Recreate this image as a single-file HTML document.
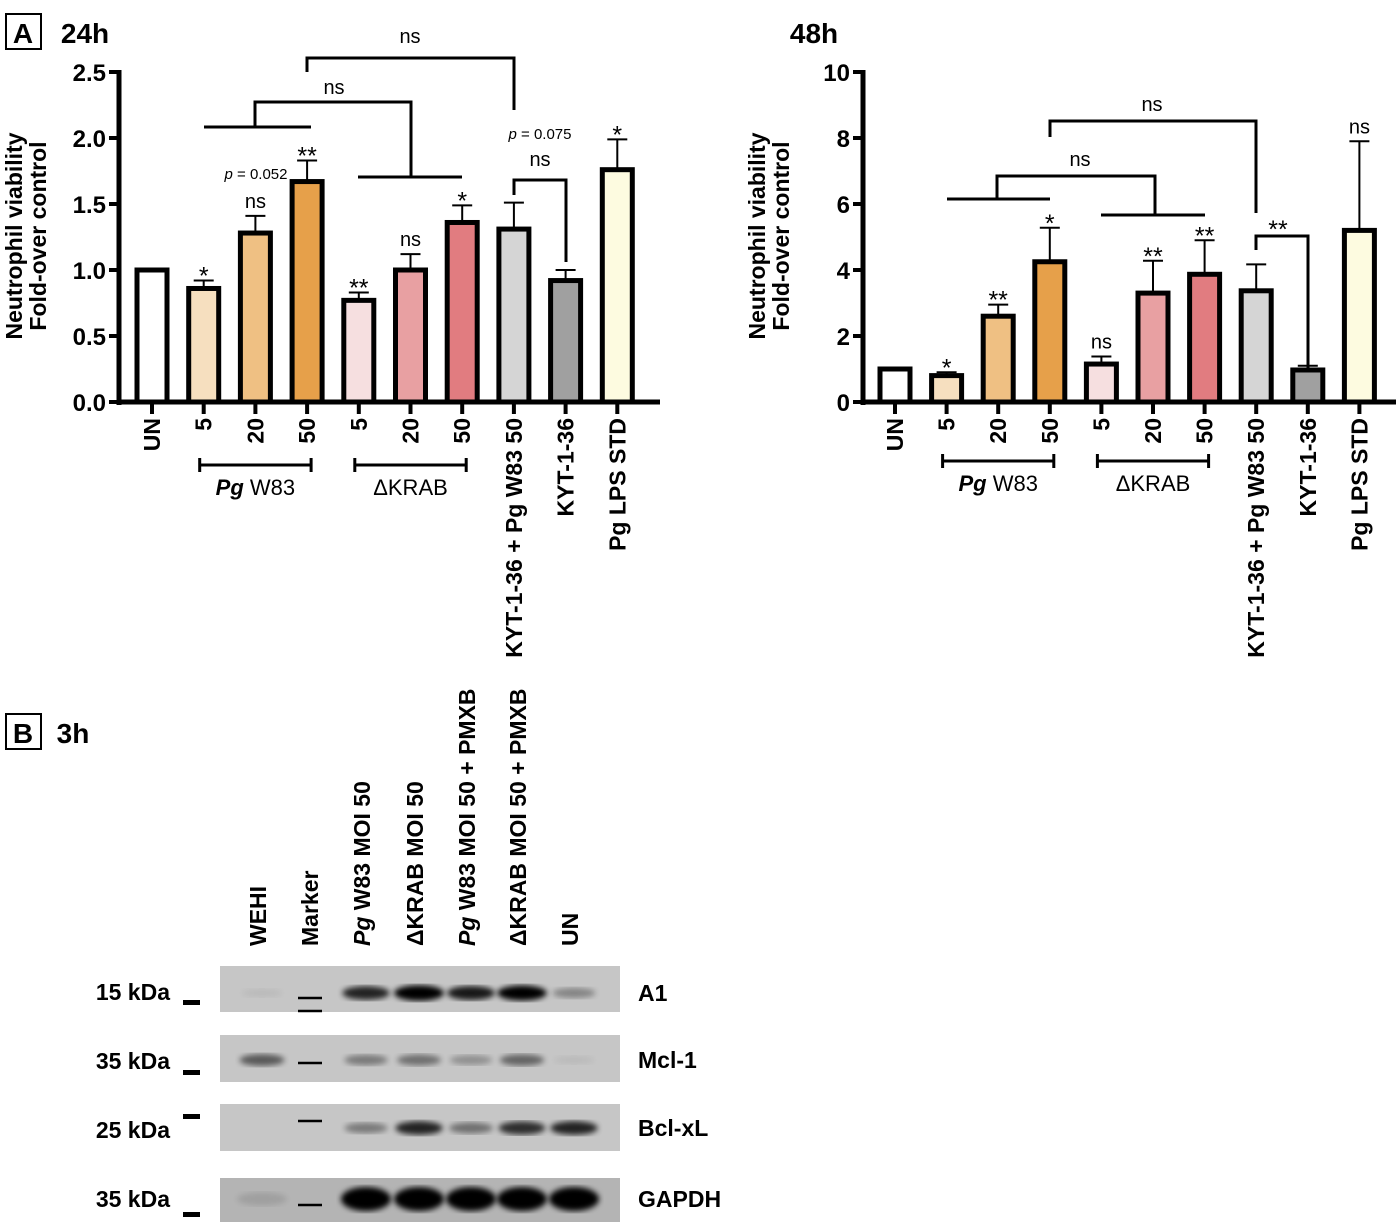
<!DOCTYPE html>
<html><head><meta charset="utf-8"><style>
html,body{margin:0;padding:0;background:#fff;}
svg{display:block;font-family:"Liberation Sans",Arial,sans-serif;}
.b{font-weight:bold;}
</style></head><body>
<svg id="fig" width="1400" height="1225" viewBox="0 0 1400 1225" xmlns="http://www.w3.org/2000/svg">
<g id="g"></g>
</svg>
<script>
const categories = ["UN","5","20","50","5","20","50","KYT-1-36 + Pg W83 50","KYT-1-36","Pg LPS STD"];
const values24 = [1.0,0.86,1.28,1.67,0.77,1.0,1.36,1.31,0.92,1.76];
const err24 = [0,0.92,1.41,1.83,0.83,1.12,1.49,1.51,1.0,1.99];
const sig24 = ["","*","ns","**","**","ns","*","","","*"];
const values48 = [1.0,0.8,2.6,4.25,1.15,3.3,3.87,3.37,0.97,5.2];
const err48 = [0,0.9,2.95,5.28,1.38,4.28,4.9,4.17,1.1,7.9];
const sig48 = ["","*","**","*","ns","**","**","","","ns"];
const ticks24 = ["0.0","0.5","1.0","1.5","2.0","2.5"];
const ticks48 = ["0","2","4","6","8","10"];
const colors = ["#ffffff","#f6dfbf","#efc083","#e6a04a","#f6dfe0","#e8a0a2","#e17c80","#d5d5d5","#a0a0a0","#fdfbe0"];
const blotLanes = ["WEHI","Marker","Pg W83 MOI 50","ΔKRAB MOI 50","Pg W83 MOI 50 + PMXB","ΔKRAB MOI 50 + PMXB","UN"];
const blotRows = ["A1","Mcl-1","Bcl-xL","GAPDH"];
const blotKda = ["15 kDa","35 kDa","25 kDa","35 kDa"];
const bandA1 = [0.05,0,0.75,1,0.8,0.95,0.3];
const bandMcl = [0.5,0,0.35,0.4,0.25,0.45,0.05];
const bandBcl = [0,0,0.35,0.75,0.4,0.7,0.75];
const bandGapdh = [0.1,0,1,1,1,1,1];

const NS="http://www.w3.org/2000/svg";
const G=document.getElementById('g');
function el(tag,attrs,parent,text){const e=document.createElementNS(NS,tag);for(const k in attrs)e.setAttribute(k,attrs[k]);if(text!==undefined)e.textContent=text;(parent||G).appendChild(e);return e;}

function chart(cfg){
  const grp=el('g',{});
  
  
  const y=v=>cfg.y0-(v/cfg.max)*(cfg.y0-cfg.yTop);
  const x=i=>cfg.x0+i*cfg.step;
  const ya=el('line',{x1:cfg.ax,y1:cfg.yTop-2,x2:cfg.ax,y2:cfg.y0+3,stroke:'#000','stroke-width':5},grp);
  
  const xa=el('line',{x1:cfg.ax-2,y1:cfg.y0,x2:cfg.axEnd,y2:cfg.y0,stroke:'#000','stroke-width':5},grp);
  
  cfg.ticks.forEach((t,i)=>{
    const v=cfg.max*i/(cfg.ticks.length-1);
    el('line',{x1:cfg.ax-10,y1:y(v),x2:cfg.ax,y2:y(v),stroke:'#000','stroke-width':4},grp);
    const tl=el('text',{x:cfg.ax-13,y:y(v)+9,'text-anchor':'end','font-size':24,class:'b'},grp,t);
    
  });
  cfg.values.forEach((v,i)=>{
    const cx=x(i),w=30;
    if(cfg.err[i]>0){
      el('line',{x1:cx,y1:y(v),x2:cx,y2:y(cfg.err[i]),stroke:'#000','stroke-width':2},grp);
      el('line',{x1:cx-10,y1:y(cfg.err[i]),x2:cx+10,y2:y(cfg.err[i]),stroke:'#000','stroke-width':2},grp);
    }
    const r=el('rect',{x:cx-w/2,y:y(v),width:w,height:cfg.y0-y(v),fill:colors[i],stroke:'#000','stroke-width':5},grp);
    
    el('line',{x1:cx,y1:cfg.y0,x2:cx,y2:cfg.y0+12,stroke:'#000','stroke-width':4},grp);
    const lab=el('text',{transform:`translate(${cx+8},418) rotate(-90)`,'text-anchor':'end','font-size':23,class:'b'},grp,categories[i]);
    
    if(cfg.sig[i]){
      const top=cfg.err[i]>0?y(cfg.err[i]):y(v);
      const s=cfg.sig[i];
      const st=el('text',{x:cx,y:top-(s==='ns'?8:-4),'text-anchor':'middle','font-size':s==='ns'?20:25},grp,s);
      
    }
  });
  const yt=el('text',{transform:`translate(${cfg.tx},236) rotate(-90)`,'text-anchor':'middle','font-size':23,class:'b'},grp,'Neutrophil viability');
  
  const yt2=el('text',{transform:`translate(${cfg.tx+24},236) rotate(-90)`,'text-anchor':'middle','font-size':23,class:'b'},grp,'Fold-over control');
  
  [[1,3,'Pg'],[4,6,'KR']].forEach(([a,b,k])=>{
    const x1=x(a)-4,x2=x(b)+4,yy=cfg.gy;
    el('path',{d:`M${x1},${yy-7}V${yy+7}M${x1},${yy}H${x2}M${x2},${yy-7}V${yy+7}`,stroke:'#000','stroke-width':3,fill:'none'},grp);
    const t=el('text',{x:(x1+x2)/2,y:yy+30,'text-anchor':'middle','font-size':22},grp);
    
    if(k==='Pg'){el('tspan',{'font-style':'italic','font-weight':'bold'},t,'Pg');el('tspan',{},t,' W83');}
    else t.textContent='ΔKRAB';
  });
  return {grp,x,y};
}
function P(d,parent){return el('path',{d,stroke:'#000','stroke-width':3,fill:'none'},parent);}
function T(x,y,s,size,parent,name){const t=el('text',{x,y,'text-anchor':'middle','font-size':size||19},parent,s);return t;}

const c1=chart({name:'chart-24h',values:values24,err:err24,sig:sig24,ticks:ticks24,max:2.5,y0:402,yTop:72,ax:119,axEnd:660,x0:152,step:51.7,tx:22,gy:465});
P('M204,127H311M255,127V102H411V177M358,177H462',c1.grp);
P('M307,72V58H514V110',c1.grp);
P('M514,195V180H566V262',c1.grp);
T(410,43,'ns',20,c1.grp);T(334,94,'ns',20,c1.grp);T(540,166,'ns',20,c1.grp);
const p1=el('text',{x:256,y:179,'text-anchor':'middle','font-size':15},c1.grp);
el('tspan',{'font-style':'italic'},p1,'p');el('tspan',{},p1,' = 0.052');
const p2=el('text',{x:540,y:139,'text-anchor':'middle','font-size':15},c1.grp);
el('tspan',{'font-style':'italic'},p2,'p');el('tspan',{},p2,' = 0.075');

const c2=chart({name:'chart-48h',values:values48,err:err48,sig:sig48,ticks:ticks48,max:10,y0:402,yTop:72,ax:863,axEnd:1396,x0:895,step:51.6,tx:765,gy:461});
P('M947,199H1050M997,199V176H1155V215M1101,215H1205',c2.grp);
P('M1050,137V121H1256V213',c2.grp);
P('M1256,250V236H1308V368',c2.grp);
T(1152,111,'ns',20,c2.grp);T(1080,166,'ns',20,c2.grp);T(1278,238,'**',25,c2.grp);

const pa=el('rect',{x:6,y:14,width:35,height:35,fill:'none',stroke:'#000','stroke-width':2});

T(23,43,'A',28,null,'panel-a-label').setAttribute('class','b');
T(85,43,'24h',28,null,'title-24h').setAttribute('class','b');
T(814,43,'48h',28,null,'title-48h').setAttribute('class','b');
const pb=el('rect',{x:6,y:714,width:35,height:35,fill:'none',stroke:'#000','stroke-width':2});

T(23,743,'B',28,null,'panel-b-label').setAttribute('class','b');
T(73,743,'3h',28,null,'title-3h').setAttribute('class','b');

const defs=el('defs',{});
const f=el('filter',{id:'blur'},defs);el('feGaussianBlur',{stdDeviation:3},f);
const laneX=[258,310,362,415,467,518,570];
blotLanes.forEach((s,i)=>{
  const t=el('text',{transform:`translate(${laneX[i]+8},946) rotate(-90)`,'font-size':23,class:'b'});
  
  if(s.startsWith('Pg ')){el('tspan',{'font-style':'italic'},t,'Pg');el('tspan',{},t,s.slice(2));}
  else t.textContent=s;
});
const rowsY=[[966,1012],[1035,1082],[1104,1151],[1178,1222]];
const bands=[bandA1,bandMcl,bandBcl,bandGapdh];
const bandY=[993,1060,1128,1199];
const markY=[[998,1011],[1063],[1121],[1205]];
const kdaY=[[1000,998],[1069,1068],[1138,1122],[1207,1210]];
blotRows.forEach((r,k)=>{
  const [y1,y2]=rowsY[k];
  const gg=el('g',{});
  el('rect',{x:220,y:y1,width:400,height:y2-y1,fill:k===3?'#b4b4b4':'#c6c6c6'},gg);
  bands[k].forEach((v,i)=>{
    if(v>0){const h=k===3?20:13;el('ellipse',{cx:laneX[i]+4,cy:bandY[k],rx:k===3?25:20+v*5,ry:h/2*(0.6+v*0.6),fill:'#000',opacity:Math.min(1,v*1.1),filter:'url(#blur)'},gg);}
  });
  markY[k].forEach(my=>el('line',{x1:298,y1:my,x2:322,y2:my,stroke:'#000','stroke-width':2.5},gg));
  const kt=el('text',{x:170,y:kdaY[k][0],'text-anchor':'end','font-size':23,class:'b'},null,blotKda[k]);
  
  el('rect',{x:183,y:kdaY[k][1]+(k===2?-8:2),width:17,height:5,fill:'#000'});
  const lt=el('text',{x:638,y:bandY[k]+8,'font-size':23,class:'b'},null,r);
  
});
</script>
</body></html>
